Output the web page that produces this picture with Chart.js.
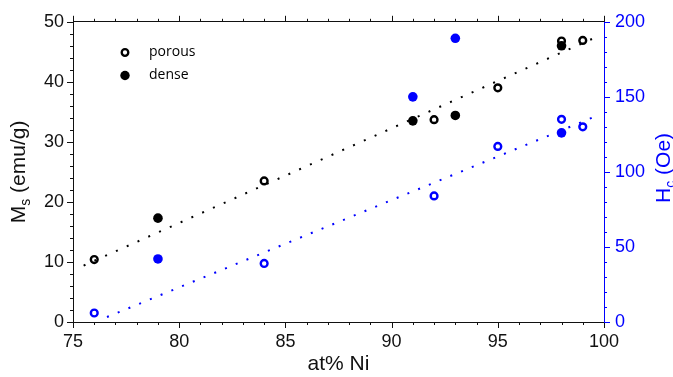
<!DOCTYPE html>
<html lang="en">
  <head>
    <meta charset="UTF-8" />
    <title>Ms and Hc versus Ni content</title>
    <script src="https://cdn.jsdelivr.net/npm/chart.js"></script>
    <style>
      body { margin: 0; background: #fff; }
      canvas { display: block; }
    </style>
  </head>
  <body>
    <canvas id="niChart" width="673" height="377"></canvas>

    <script>
      // at% Ni of each sample
      const porousNi = [76, 84, 92, 95, 98, 99];
      const denseNi = [79, 91, 93, 98];
      // saturation magnetisation in emu/g (left axis)
      const porousMs = [10.4, 23.5, 33.7, 39.0, 46.8, 46.9];
      const denseMs = [17.3, 33.5, 34.4, 46.0];
      // coercivity in Oe (right axis)
      const porousHc = [6, 39, 84, 117, 135, 130];
      const denseHc = [42, 150, 189, 126];
      // end points of the dotted linear fits
      const msFitNi = [75.5, 99.6];
      const msFit = [9.4, 47.4];
      const hcFitNi = [76.6, 99.6];
      const hcFit = [3.3, 137];
      // labelled ticks
      const xTicks = [75, 80, 85, 90, 95, 100];
      const msTicks = [0, 10, 20, 30, 40, 50];
      const hcTicks = [0, 50, 100, 150, 200];

      const BLUE = "#0000ff";
      const INK = "#111111";
      const tickFont = { family: "Liberation Sans", size: 18 };

      const pts = (xs, ys) => xs.map((x, i) => ({ x: x, y: ys[i] }));

      // ticks (major + minor), legend and axis titles drawn on top
      const decorPlugin = {
        id: "decor",
        afterDraw(chart) {
          const ctx = chart.ctx;
          const a = chart.chartArea;
          const sx = chart.scales.x;
          const sy = chart.scales.y;
          const sy1 = chart.scales.y1;
          ctx.save();
          ctx.lineWidth = 1;

          // x ticks, bottom and top
          ctx.strokeStyle = INK;
          for (let v = 75; v <= 100; v++) {
            const px = Math.round(sx.getPixelForValue(v)) + 0.5;
            const len = xTicks.includes(v) ? 6 : 3;
            ctx.beginPath();
            ctx.moveTo(px, a.bottom);
            ctx.lineTo(px, a.bottom + len);
            ctx.moveTo(px, a.top);
            ctx.lineTo(px, a.top - len);
            ctx.stroke();
          }
          // left ticks
          for (let v = 0; v <= 50; v += 2) {
            const py = Math.round(sy.getPixelForValue(v)) + 0.5;
            const len = msTicks.includes(v) ? 6 : 3;
            ctx.beginPath();
            ctx.moveTo(a.left, py);
            ctx.lineTo(a.left - len, py);
            ctx.stroke();
          }
          // right ticks
          ctx.strokeStyle = BLUE;
          for (let v = 0; v <= 200; v += 10) {
            const py = Math.round(sy1.getPixelForValue(v)) + 0.5;
            const len = hcTicks.includes(v) ? 6 : 3;
            ctx.beginPath();
            ctx.moveTo(a.right, py);
            ctx.lineTo(a.right + len, py);
            ctx.stroke();
          }

          // legend
          ctx.strokeStyle = "#000";
          ctx.fillStyle = "#000";
          ctx.lineWidth = 2.3;
          ctx.beginPath();
          ctx.arc(125, 52.5, 3.3, 0, Math.PI * 2);
          ctx.stroke();
          ctx.beginPath();
          ctx.arc(125, 75.5, 4.7, 0, Math.PI * 2);
          ctx.fill();
          ctx.font = "14px 'Open Sans'";
          ctx.textBaseline = "middle";
          ctx.textAlign = "left";
          ctx.fillText("porous", 149, 52);
          ctx.fillText("dense", 149, 75);

          // axis titles
          const big = "21px 'Liberation Sans'";
          const small = "14px 'Liberation Sans'";
          function subTitle(main, sub, rest, cx, cy, color, rot) {
            ctx.font = big;
            const w1 = ctx.measureText(main).width;
            const w3 = ctx.measureText(rest).width;
            ctx.font = small;
            const w2 = ctx.measureText(sub).width;
            const total = w1 + w2 + w3;
            ctx.save();
            ctx.translate(cx, cy);
            ctx.rotate(rot);
            ctx.fillStyle = color;
            ctx.textAlign = "left";
            ctx.textBaseline = "alphabetic";
            let x = -total / 2;
            ctx.font = big;
            ctx.fillText(main, x, 0);
            x += w1;
            ctx.font = small;
            ctx.fillText(sub, x, 5);
            x += w2;
            ctx.font = big;
            ctx.fillText(rest, x, 0);
            ctx.restore();
          }
          const midY = (a.top + a.bottom) / 2;
          subTitle("M", "s", " (emu/g)", 25, midY, INK, -Math.PI / 2);
          subTitle("H", "c", " (Oe)", 670, midY - 4, BLUE, -Math.PI / 2);

          ctx.font = big;
          ctx.fillStyle = INK;
          ctx.textAlign = "center";
          ctx.textBaseline = "alphabetic";
          ctx.fillText("at% Ni", (a.left + a.right) / 2, 370);
          ctx.restore();
        },
      };

      const ctx = document.getElementById("niChart").getContext("2d");
      const niChart = new Chart(ctx, {
        type: "scatter",
        data: {
          datasets: [
            {
              label: "Ms fit",
              data: pts(msFitNi, msFit),
              yAxisID: "y",
              showLine: true,
              borderColor: "#000",
              borderWidth: 2,
              borderDash: [2, 9.8],
              pointRadius: 0,
            },
            {
              label: "Hc fit",
              data: pts(hcFitNi, hcFit),
              yAxisID: "y1",
              showLine: true,
              borderColor: BLUE,
              borderWidth: 2,
              borderDash: [2, 9.6],
              pointRadius: 0,
            },
            {
              label: "Hc porous",
              data: pts(porousNi, porousHc),
              yAxisID: "y1",
              pointRadius: 3.4,
              borderWidth: 2.4,
              borderColor: BLUE,
              backgroundColor: "rgba(0,0,0,0)",
            },
            {
              label: "Hc dense",
              data: pts(denseNi, denseHc),
              yAxisID: "y1",
              pointRadius: 4.8,
              borderWidth: 0,
              backgroundColor: BLUE,
            },
            {
              label: "Ms porous",
              data: pts(porousNi, porousMs),
              yAxisID: "y",
              pointRadius: 3.4,
              borderWidth: 2.4,
              borderColor: "#000",
              backgroundColor: "rgba(0,0,0,0)",
            },
            {
              label: "Ms dense",
              data: pts(denseNi, denseMs),
              yAxisID: "y",
              pointRadius: 4.8,
              borderWidth: 0,
              backgroundColor: "#000",
            },
          ],
        },
        options: {
          responsive: false,
          animation: false,
          layout: { padding: 0 },
          plugins: {
            legend: { display: false },
            tooltip: { enabled: false },
          },
          scales: {
            x: {
              type: "linear",
              position: "bottom",
              min: 75,
              max: 100,
              afterFit(s) { s.height = 55; },
              grid: { display: false, drawTicks: false },
              border: { color: INK, width: 1 },
              ticks: {
                stepSize: 1,
                autoSkip: false,
                maxRotation: 0,
                padding: 9,
                color: INK,
                font: tickFont,
                callback: (v) => (xTicks.includes(v) ? v : ""),
              },
            },
            x2: {
              type: "linear",
              position: "top",
              min: 75,
              max: 100,
              afterFit(s) { s.height = 15; },
              grid: { display: false, drawTicks: false },
              border: { color: INK, width: 1 },
              ticks: { display: false },
            },
            y: {
              type: "linear",
              position: "left",
              min: 0,
              max: 50,
              afterFit(s) { s.width = 73; },
              grid: { display: false, drawTicks: false },
              border: { color: INK, width: 1 },
              ticks: {
                stepSize: 2,
                autoSkip: false,
                padding: 9,
                color: INK,
                font: tickFont,
                callback: (v) => (msTicks.includes(v) ? v : ""),
              },
            },
            y1: {
              type: "linear",
              position: "right",
              min: 0,
              max: 200,
              afterFit(s) { s.width = 69; },
              grid: { display: false, drawTicks: false },
              border: { color: BLUE, width: 1 },
              ticks: {
                stepSize: 10,
                autoSkip: false,
                padding: 11,
                color: BLUE,
                font: tickFont,
                callback: (v) => (hcTicks.includes(v) ? v : ""),
              },
            },
          },
        },
        plugins: [decorPlugin],
      });
    </script>
  </body>
</html>
